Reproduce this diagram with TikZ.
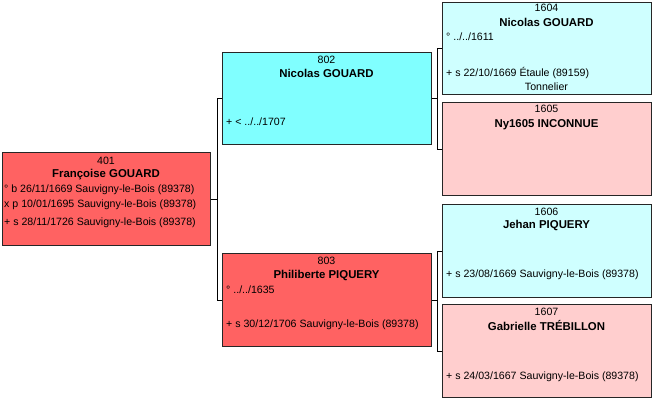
\documentclass[tikz,border=0pt]{standalone}
\usepackage{fontspec}
\setmainfont{Liberation Sans}
\definecolor{cRed}{HTML}{FF6262}
\definecolor{cCyan}{HTML}{80FFFF}
\definecolor{cPaleCyan}{HTML}{CFFFFF}
\definecolor{cPink}{HTML}{FFCECE}
\tikzset{
  person/.style={draw=black!85, line width=0.8pt, inner sep=0pt, anchor=north west},
  num/.style={inner sep=0pt, anchor=mid, yshift=-1pt, font=\fontsize{10.6}{12}\selectfont},
  nm/.style={inner sep=0pt, anchor=mid, yshift=-1pt, font=\fontsize{11.4}{13}\selectfont\bfseries},
  info/.style={inner sep=0pt, anchor=mid west, yshift=-1pt, font=\fontsize{10.6}{12}\selectfont},
  infoc/.style={inner sep=0pt, anchor=mid, yshift=-1pt, font=\fontsize{10.6}{12}\selectfont},
  link/.style={draw=black, line width=0.8pt}
}
\begin{document}
\begin{tikzpicture}[x=1pt,y=-1pt]
\useasboundingbox (0,0) rectangle (658,405);
% boxes
\node[person, fill=cRed, minimum width=208pt, minimum height=93pt] (p401) at (2,152) {};
\node[person, fill=cCyan, minimum width=209pt, minimum height=92pt] (p802) at (222,52) {};
\node[person, fill=cRed, minimum width=209pt, minimum height=93pt] (p803) at (222,253) {};
\node[person, fill=cPaleCyan, minimum width=209pt, minimum height=92pt] (p1604) at (442,2) {};
\node[person, fill=cPink, minimum width=209pt, minimum height=93pt] (p1605) at (442,102) {};
\node[person, fill=cPaleCyan, minimum width=209pt, minimum height=93pt] (p1606) at (442,204) {};
\node[person, fill=cPink, minimum width=209pt, minimum height=93pt] (p1607) at (442,304) {};
% connectors
\coordinate (b1) at (217,0);
\coordinate (b2) at (437,0);
\draw[link] (p401.east) -- (b1 |- p401.east);
\draw[link] (p802.west) -| (b1 |- p803.west) -- (p803.west);
\draw[link] (p802.east) -- (b2 |- p802.east);
\draw[link] (p1604.west) -| (b2 |- p1605.west) -- (p1605.west);
\draw[link] (p803.east) -- (b2 |- p803.east);
\draw[link] (p1606.west) -| (b2 |- p1607.west) -- (p1607.west);
% 401
\node[num] (n401) at (106,160.5) {401};
\node[nm] (m401) at (106,173.5) {Françoise GOUARD};
\node[info] (a401) at (4,189) {° b 26/11/1669 Sauvigny-le-Bois (89378)};
\node[info] (b401) at (4,204) {x p 10/01/1695 Sauvigny-le-Bois (89378)};
\node[info] (c401) at (4,222) {+ s 28/11/1726 Sauvigny-le-Bois (89378)};
% 802
\node[num] (n802) at (326.5,59.5) {802};
\node[nm] (m802) at (326.5,73.5) {Nicolas GOUARD};
\node[info] (a802) at (226,122) {+ < ../../1707};
% 803
\node[num] (n803) at (326.5,261) {803};
\node[nm] (m803) at (326.5,274.5) {Philiberte PIQUERY};
\node[info] (a803) at (226,289.5) {° ../../1635};
\node[info] (b803) at (226,323.5) {+ s 30/12/1706 Sauvigny-le-Bois (89378)};
% 1604
\node[num] (n1604) at (546.5,8) {1604};
\node[nm] (m1604) at (546.5,22.5) {Nicolas GOUARD};
\node[info] (a1604) at (446,37) {° ../../1611};
\node[info] (b1604) at (446,72.5) {+ s 22/10/1669 Étaule (89159)};
\node[infoc] (c1604) at (546.5,87) {Tonnelier};
% 1605
\node[num] (n1605) at (546.5,109) {1605};
\node[nm] (m1605) at (546.5,123.5) {Ny1605 INCONNUE};
% 1606
\node[num] (n1606) at (546.5,212) {1606};
\node[nm] (m1606) at (546.5,224.5) {Jehan PIQUERY};
\node[info] (a1606) at (446,273.5) {+ s 23/08/1669 Sauvigny-le-Bois (89378)};
% 1607
\node[num] (n1607) at (546.5,312) {1607};
\node[nm] (m1607) at (546.5,326.5) {Gabrielle TRÉBILLON};
\node[info] (a1607) at (446,375.5) {+ s 24/03/1667 Sauvigny-le-Bois (89378)};
\end{tikzpicture}
\end{document}
